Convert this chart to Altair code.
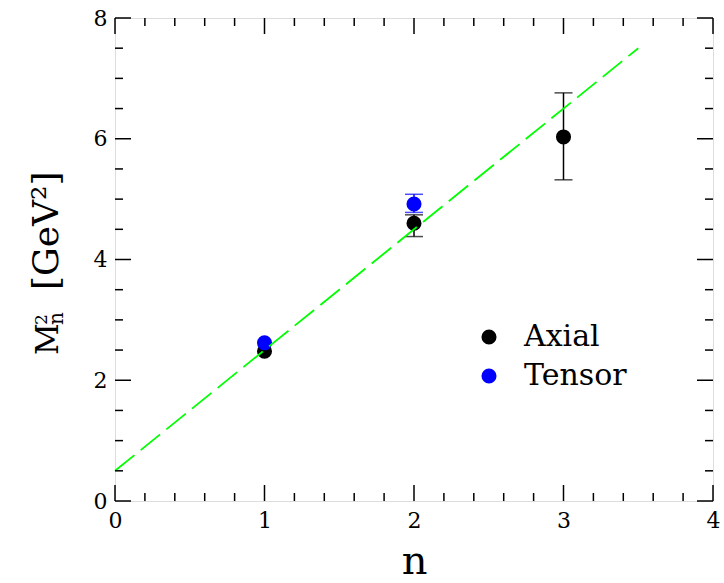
import altair as alt
import pandas as pd

# Measured squared masses M_n^2 [GeV^2] against radial number n
axial_n = [1, 2, 3]
axial_m2 = [2.48, 4.60, 6.03]
axial_err_n = [2, 3]
axial_err_lo = [4.38, 5.32]
axial_err_hi = [4.74, 6.76]

tensor_n = [1, 2]
tensor_m2 = [2.62, 4.92]
tensor_err_n = [2]
tensor_err_lo = [4.78]
tensor_err_hi = [5.08]

# Linear Regge trajectory (end points)
fit_n = [0.0, 3.5]
fit_m2 = [0.5, 7.5]

series_names = ["Axial", "Tensor"]
series_colors = ["#000000", "#0000ff"]

x_major = [0, 1, 2, 3, 4]
x_minor = [0.2, 0.4, 0.6, 0.8, 1.2, 1.4, 1.6, 1.8, 2.2, 2.4, 2.6, 2.8,
           3.2, 3.4, 3.6, 3.8]
y_major = [0, 2, 4, 6, 8]
y_minor = [0.5, 1, 1.5, 2.5, 3, 3.5, 4.5, 5, 5.5, 6.5, 7, 7.5]

W, H = 598, 483
FONT = "DejaVu Serif"

points = pd.DataFrame({
    "n": axial_n + tensor_n,
    "m2": axial_m2 + tensor_m2,
    "series": ["Axial"] * len(axial_n) + ["Tensor"] * len(tensor_n),
})
errors = pd.DataFrame({
    "n": axial_err_n + tensor_err_n,
    "lo": axial_err_lo + tensor_err_lo,
    "hi": axial_err_hi + tensor_err_hi,
    "series": ["Axial"] * len(axial_err_n) + ["Tensor"] * len(tensor_err_n),
})
fit = pd.DataFrame({"n": fit_n, "m2": fit_m2})

xs = alt.Scale(domain=[0, 4], nice=False, zero=False)
ys = alt.Scale(domain=[0, 8], nice=False, zero=False)

x_axis = alt.Axis(values=x_major, format="d", ticks=False, domain=False, grid=False,
                  labelFlush=False, labelFont=FONT, labelFontSize=22, labelColor="black",
                  labelPadding=9,
                  title="n", titleFont=FONT, titleFontSize=40, titleFontWeight="normal",
                  titleColor="black", titleY=72, titleBaseline="alphabetic")
y_axis = alt.Axis(values=y_major, format="d", ticks=False, domain=False, grid=False,
                  labelFlush=False, labelFont=FONT, labelFontSize=22, labelColor="black",
                  labelPadding=8, title="")

X = alt.X("n:Q", scale=xs, axis=x_axis)
Y = alt.Y("m2:Q", scale=ys, axis=y_axis)

layers = []

# error bars with caps, one colour per series
for name, col in zip(series_names, series_colors):
    sub = errors[errors["series"] == name]
    base = alt.Chart(sub)
    layers.append(base.mark_rule(color=col, strokeWidth=1.5).encode(
        x=alt.X("n:Q", scale=xs), y=alt.Y("lo:Q", scale=ys), y2="hi:Q"))
    layers.append(base.mark_tick(color=col, orient="horizontal", size=18, thickness=1.5).encode(
        x=alt.X("n:Q", scale=xs), y=alt.Y("lo:Q", scale=ys)))
    layers.append(base.mark_tick(color=col, orient="horizontal", size=18, thickness=1.5).encode(
        x=alt.X("n:Q", scale=xs), y=alt.Y("hi:Q", scale=ys)))

pts = alt.Chart(points).mark_circle(size=227, opacity=1).encode(
    x=X, y=Y,
    color=alt.Color("series:N",
                    scale=alt.Scale(domain=series_names, range=series_colors),
                    legend=alt.Legend(title=None, orient="none", legendX=359, legendY=304,
                                      padding=0, symbolType="circle", symbolSize=227,
                                      symbolOpacity=1, symbolStrokeWidth=0,
                                      labelFont=FONT, labelFontSize=30, labelColor="black",
                                      labelOffset=20, rowPadding=9)),
)
layers.append(pts)

line = alt.Chart(fit).mark_line(color="#00ff00", strokeWidth=1.8, strokeDash=[25, 8]).encode(
    x=alt.X("n:Q", scale=xs), y=alt.Y("m2:Q", scale=ys))
layers.append(line)

# inward ticks on all four sides of the frame
def xticks(vals, length):
    d = pd.DataFrame({"v": vals})
    bottom = alt.Chart(d).mark_rule(color="black", strokeWidth=1.5).encode(
        x=alt.X("v:Q", scale=xs), y=alt.value(H), y2=alt.value(H - length))
    top = alt.Chart(d).mark_rule(color="black", strokeWidth=1.5).encode(
        x=alt.X("v:Q", scale=xs), y=alt.value(0), y2=alt.value(length))
    return [bottom, top]

def yticks(vals, length):
    d = pd.DataFrame({"v": vals})
    left = alt.Chart(d).mark_rule(color="black", strokeWidth=1.5).encode(
        y=alt.Y("v:Q", scale=ys), x=alt.value(0), x2=alt.value(length))
    right = alt.Chart(d).mark_rule(color="black", strokeWidth=1.5).encode(
        y=alt.Y("v:Q", scale=ys), x=alt.value(W), x2=alt.value(W - length))
    return [left, right]

layers += xticks(x_major, 16) + xticks(x_minor, 8)
layers += yticks(y_major, 16) + yticks(y_minor, 8)

# rotated y-axis title: M with stacked superscript 2 and subscript n, then [GeV²]
def vtext(label, x, y, size):
    return alt.Chart(pd.DataFrame({"t": [label]})).mark_text(
        angle=270, align="left", baseline="alphabetic", font=FONT, fontSize=size,
        color="black").encode(text="t:N", x=alt.value(x), y=alt.value(y))

layers += [
    vtext("M", -57, 337, 31),
    vtext("2", -68, 307, 17),
    vtext("n", -52, 307, 20),
    vtext("[GeV²]", -57, 272, 36),
]

chart = alt.layer(*layers).properties(
    width=W, height=H,
    autosize=alt.AutoSizeParams(type="none"),
    padding={"left": 115, "top": 18, "right": 11, "bottom": 82},
).configure_view(stroke="black", strokeWidth=2).configure(background="white")

chart.save("out.html", embed_options={"renderer": "svg", "actions": False})
